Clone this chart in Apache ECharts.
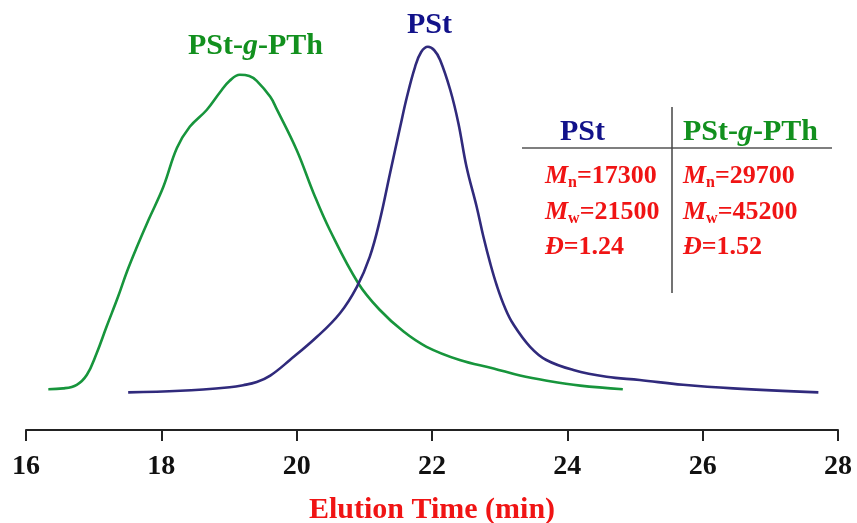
<!DOCTYPE html>
<html>
<head>
    <meta charset="UTF-8">
    <title>GPC curves PSt / PSt-g-PTh</title>
    <script src="https://cdn.jsdelivr.net/npm/echarts@6/dist/echarts.min.js"></script>
</head>
<body style="margin:0;background:#fff;">
<div id="gpc" style="width:857px;height:523px;"></div>
<script type="text/javascript">

    // elution time (min) and detector response (arbitrary units)
    var graftTime = [16.33, 16.55, 16.75, 16.90, 17.04, 17.19, 17.36, 17.49, 17.64, 17.81, 18.03, 18.23,
        18.42, 18.67, 18.87, 19.01, 19.16, 19.30, 19.41, 19.61, 19.70, 20.00, 20.25, 20.49, 20.91, 21.23,
        21.58, 21.92, 22.41, 22.91, 23.30, 23.70, 24.19, 24.82];
    var graftSignal = [10.2, 10.4, 11.3, 13.8, 19.0, 25.8, 33.3, 39.5, 45.8, 52.5, 60.8, 70.5,
        75.8, 80.0, 84.5, 87.3, 88.8, 88.5, 87.3, 83.3, 80.4, 70.0, 59.2, 50.0, 36.7, 30.0,
        24.6, 20.8, 17.5, 15.4, 13.6, 12.3, 11.1, 10.2];

    var pstTime = [17.51, 18.28, 19.01, 19.21, 19.41, 19.61, 19.90, 20.30, 20.64, 20.89, 21.08, 21.23, 21.38,
        21.53, 21.63, 21.75, 21.84, 21.94, 22.03, 22.12, 22.27, 22.39, 22.51, 22.66, 22.76, 22.86,
        22.96, 23.08, 23.20, 23.45, 23.69, 24.09, 24.58, 25.07, 25.71, 26.45, 27.71];
    var pstSignal = [9.4, 9.8, 10.7, 11.2, 12.0, 13.6, 17.5, 23.3, 29.2, 35.8, 43.3, 52.5, 64.2,
        75.8, 83.3, 90.8, 94.5, 95.8, 95.0, 92.5, 85.0, 76.7, 65.8, 55.8, 48.3, 41.7,
        36.0, 30.5, 26.5, 20.8, 17.5, 15.0, 13.3, 12.5, 11.3, 10.4, 9.4];

    var xTicks = [16, 18, 20, 22, 24, 26, 28];

    // molecular weight table
    var pstRows = [['M', 'n', '=17300'], ['M', 'w', '=21500'], ['Đ', '', '=1.24']];
    var graftRows = [['M', 'n', '=29700'], ['M', 'w', '=45200'], ['Đ', '', '=1.52']];

    var green = '#17953c';
    var blue = '#302a7c';
    var labelGreen = '#12901e';
    var labelBlue = '#12128a';
    var red = '#f01414';
    var serif = '"Liberation Serif", "Times New Roman", serif';

    function pairs(xs, ys) {
        return xs.map(function (x, i) { return [x, ys[i]]; });
    }

    var richStyle = {
        i: {fontFamily: serif, fontWeight: 'bold', fontStyle: 'italic', fontSize: 26, fill: red, lineHeight: 30},
        s: {fontFamily: serif, fontWeight: 'bold', fontSize: 16, fill: red, lineHeight: 30, padding: [14, 0, 0, 0]},
        v: {fontFamily: serif, fontWeight: 'bold', fontSize: 26, fill: red, lineHeight: 30}
    };

    function rowText(r) {
        return '{i|' + r[0] + '}' + (r[1] ? '{s|' + r[1] + '}' : '') + '{v|' + r[2] + '}';
    }

    var graphics = [
        // curve labels
        {type: 'text', left: 188, top: 31, style: {
            text: '{a|PSt-}{g|g}{a|-PTh}',
            rich: {
                a: {fontFamily: serif, fontWeight: 'bold', fontSize: 30, fill: labelGreen},
                g: {fontFamily: serif, fontWeight: 'bold', fontStyle: 'italic', fontSize: 30, fill: labelGreen}
            }
        }},
        {type: 'text', left: 407, top: 10, style: {
            text: 'PSt', fontFamily: serif, fontWeight: 'bold', fontSize: 30, fill: labelBlue
        }},
        // table headers
        {type: 'text', left: 560, top: 117, style: {
            text: 'PSt', fontFamily: serif, fontWeight: 'bold', fontSize: 30, fill: labelBlue
        }},
        {type: 'text', left: 683, top: 117, style: {
            text: '{a|PSt-}{g|g}{a|-PTh}',
            rich: {
                a: {fontFamily: serif, fontWeight: 'bold', fontSize: 30, fill: labelGreen},
                g: {fontFamily: serif, fontWeight: 'bold', fontStyle: 'italic', fontSize: 30, fill: labelGreen}
            }
        }},
        // table rules
        {type: 'line', shape: {x1: 522, y1: 148, x2: 832, y2: 148}, style: {stroke: '#555', lineWidth: 1.5}},
        {type: 'line', shape: {x1: 672, y1: 107, x2: 672, y2: 293}, style: {stroke: '#444', lineWidth: 1.5}}
    ];

    var rowY = [161, 197, 234];
    pstRows.forEach(function (r, i) {
        graphics.push({type: 'text', left: 545, top: rowY[i], style: {text: rowText(r), rich: richStyle}});
    });
    graftRows.forEach(function (r, i) {
        graphics.push({type: 'text', left: 683, top: rowY[i], style: {text: rowText(r), rich: richStyle}});
    });

    var myChart = echarts.init(document.getElementById('gpc'));

    myChart.setOption({
        backgroundColor: '#ffffff',
        animation: false,
        grid: {left: 26, right: 19, top: 30, bottom: 93, outerBoundsMode: 'none'},
        xAxis: {
            type: 'value',
            min: 16,
            max: 28,
            interval: 2,
            name: 'Elution Time (min)',
            nameLocation: 'middle',
            nameGap: 65,
            nameTextStyle: {fontFamily: serif, fontWeight: 'bold', fontSize: 30, color: red},
            axisLine: {lineStyle: {color: '#222', width: 2}},
            axisTick: {length: 11, lineStyle: {color: '#222', width: 2}},
            axisLabel: {
                margin: 23,
                fontFamily: serif, fontWeight: 'bold', fontSize: 28, color: '#111',
                formatter: function (v) { return xTicks.indexOf(v) >= 0 ? String(v) : ''; }
            },
            splitLine: {show: false}
        },
        yAxis: {
            type: 'value',
            min: 0,
            max: 100,
            show: false
        },
        graphic: graphics,
        series: [
            {
                name: 'PSt-g-PTh',
                type: 'line',
                data: pairs(graftTime, graftSignal),
                showSymbol: false,
                smooth: 0.4,
                lineStyle: {color: green, width: 2.6}
            },
            {
                name: 'PSt',
                type: 'line',
                data: pairs(pstTime, pstSignal),
                showSymbol: false,
                smooth: 0.4,
                lineStyle: {color: blue, width: 2.6}
            }
        ]
    });
</script>
</body>
</html>
